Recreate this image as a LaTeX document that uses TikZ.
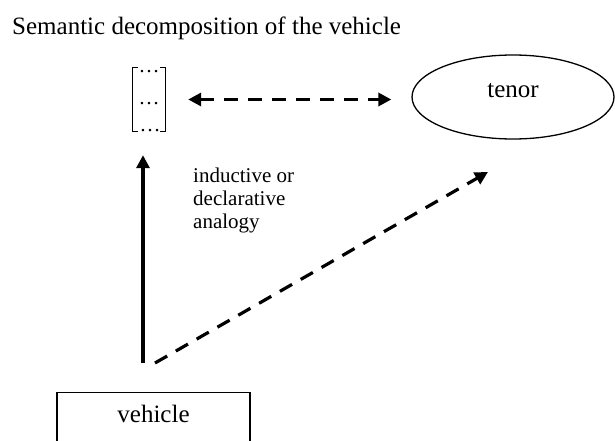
\documentclass[tikz,border=0pt]{standalone}
\usepackage{fontspec}
\setmainfont{Liberation Serif}
\usetikzlibrary{arrows.meta,shapes.geometric}
\begin{document}
\begin{tikzpicture}[x=1pt,y=-1pt,
  big/.style={font=\fontsize{25}{28}\selectfont},
  conn/.style={line width=3.2pt},
  dsh/.style={conn, dash pattern=on 14pt off 10pt},
  tip/.style={-{Triangle[length=13pt,width=13pt]}},
  dtip/.style={{Triangle[length=13pt,width=13pt]}-{Triangle[length=13pt,width=13pt]}},
  brk/.style={line width=1.3pt},
  dotsfont/.style={font=\fontsize{21}{21}\selectfont, inner sep=0pt, anchor=base},
  ]
\useasboundingbox (0,0) rectangle (615,441);
\node[big, anchor=base west, inner sep=0pt] (title) at (12,35) {Semantic decomposition of the vehicle};
% bracketed column of dots
\node[minimum width=32pt, minimum height=63pt, inner sep=0pt] (mat) at (149,99.5) {};
\draw[brk] ([xshift=5pt]mat.north west) -- (mat.north west) -- (mat.south west) -- ([xshift=5pt]mat.south west);
\draw[brk] ([xshift=-5pt]mat.north east) -- (mat.north east) -- (mat.south east) -- ([xshift=-5pt]mat.south east);
\node[dotsfont] (d1) at (149,72.5) {…};
\node[dotsfont] (d2) at (149,104.5) {…};
\node[dotsfont] (d3) at (150,131.5) {…};
% tenor
\node[ellipse, draw, line width=1.3pt, minimum width=202pt, minimum height=84pt, inner sep=0pt, big, text height=17pt, text depth=15pt] (tenor) at (513,97) {tenor};
% vehicle
\node[draw, line width=1.3pt, anchor=north, inner sep=0pt, minimum width=193pt, text height=30pt, text depth=40pt, big] (vehicle) at (153.5,392) {vehicle};
% label
\node[anchor=north west, inner sep=0pt, align=left, font=\fontsize{21}{23}\selectfont] (lab) at (193,167.5) {inductive or\\declarative\\analogy};
% connectors
\coordinate (vs) at (143,363);
\coordinate (ds) at (155,363);
\coordinate (de) at (488,172);
\draw[conn, tip] (vs) -- ([yshift=-24pt]vs |- mat.south);
\draw[dsh, tip] (ds) -- (de);
\draw[dsh, dtip] ([xshift=23pt]mat.east) -- ([xshift=-20pt]tenor.west |- mat.east);
\end{tikzpicture}
\end{document}
